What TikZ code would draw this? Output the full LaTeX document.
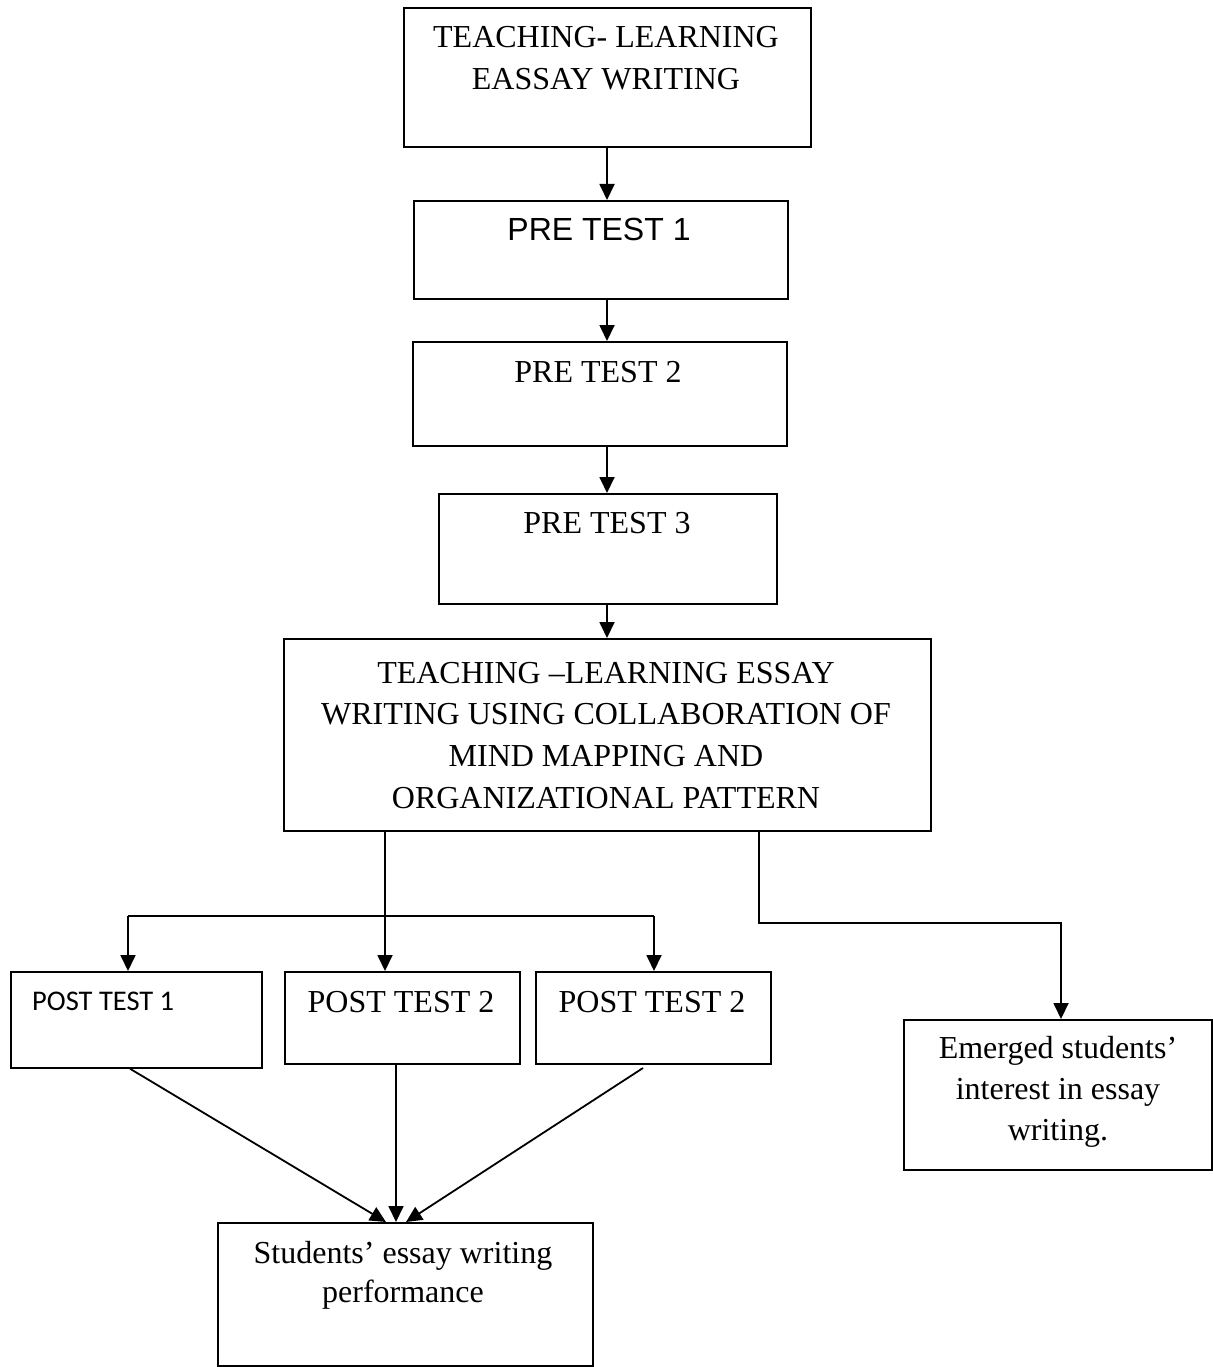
\documentclass[tikz,border=0pt]{standalone}
\usepackage{fontspec}
\setmainfont{Liberation Serif}
\newfontfamily\arialfont{Liberation Sans}
\newfontfamily\califont{Carlito}
\usetikzlibrary{arrows.meta}
\newcommand\mlines[1]{\begin{tabular}[t]{@{}c@{}}#1\end{tabular}}
\begin{document}
\begin{tikzpicture}[x=1pt,y=-1pt,
  box/.style={draw, line width=1.7pt, inner sep=0pt, anchor=north west},
  tnr/.style={inner sep=0pt, anchor=base, font=\fontsize{32}{42}\selectfont},
  arr/.style={line width=1.8pt, -{Triangle[width=15pt,length=16pt]}},
  ln/.style={line width=1.8pt}]
\useasboundingbox (0,0) rectangle (1212,1367);
% boxes
\node[box, minimum width=407pt, minimum height=139pt] (top) at (403,7) {};
\node[box, minimum width=374pt, minimum height=98pt] (pre1) at (413,200) {};
\node[box, minimum width=374pt, minimum height=104pt] (pre2) at (412,341) {};
\node[box, minimum width=338pt, minimum height=110pt] (pre3) at (438,493) {};
\node[box, minimum width=647pt, minimum height=192pt] (big) at (283,638) {};
\node[box, minimum width=251pt, minimum height=96pt] (post1) at (10,971) {};
\node[box, minimum width=235pt, minimum height=92pt] (post2) at (284,971) {};
\node[box, minimum width=235pt, minimum height=92pt] (post3) at (535,971) {};
\node[box, minimum width=308pt, minimum height=150pt] (emg) at (903,1019) {};
\node[box, minimum width=375pt, minimum height=143pt] (perf) at (217,1222) {};
% texts
\node[tnr] (topT) at (606,48) {\mlines{TEACHING- LEARNING\\EASSAY WRITING}};
\node[tnr, font=\arialfont\fontsize{32}{42}\selectfont] (pre1T) at (599,240) {PRE TEST 1};
\node[tnr] (pre2T) at (598,382) {PRE TEST 2};
\node[tnr] (pre3T) at (607,533) {PRE TEST 3};
\node[tnr, font=\fontsize{32}{41.7}\selectfont] (bigT) at (606,683) {\mlines{TEACHING \textendash LEARNING ESSAY\\WRITING USING COLLABORATION OF\\MIND MAPPING AND\\ORGANIZATIONAL PATTERN}};
\node[tnr, anchor=base west, font=\califont\fontsize{28.5}{34}\selectfont] (post1T) at (32,1010) {POST TEST 1};
\node[tnr] (post2T) at (401,1012) {POST TEST 2};
\node[tnr] (post3T) at (652,1012) {POST TEST 2};
\node[tnr, font=\fontsize{32}{41}\selectfont] (emgT) at (1058,1058) {\mlines{Emerged students’\\interest in essay\\writing.}};
\node[tnr, font=\fontsize{32}{39}\selectfont] (perfT) at (403,1263) {\mlines{Students’ essay writing\\performance}};
% connector coordinates
\coordinate (cx) at (607,0);
\coordinate (sx) at (385,0);
\coordinate (hL) at (128,916);
\coordinate (hR) at (654,916);
\coordinate (r1) at (759,923);
\coordinate (r2) at (1061,923);
\coordinate (d1) at (130,0);
\coordinate (d2) at (396,0);
\coordinate (d3s) at (643,1068);
\coordinate (t1) at (386,0);
\coordinate (t3) at (406,0);
% connectors
\draw[arr] (top.south -| cx) -- (pre1.north -| cx);
\draw[arr] (pre1.south -| cx) -- (pre2.north -| cx);
\draw[arr] (pre2.south -| cx) -- (pre3.north -| cx);
\draw[arr] (pre3.south -| cx) -- (big.north -| cx);
\draw[arr] (big.south -| sx) -- (post2.north -| sx);
\draw[ln] (hL) -- (hR);
\draw[arr] (hL) -- (post1.north -| hL);
\draw[arr] (hR) -- (post3.north -| hR);
\draw[arr] (big.south -| r1) -- (r1) -- (r2) -- (emg.north -| r2);
\draw[arr] (post1.south -| d1) -- (perf.north -| t1);
\draw[arr] (post2.south -| d2) -- (perf.north -| d2);
\draw[arr] (d3s) -- (perf.north -| t3);
\end{tikzpicture}
\end{document}
